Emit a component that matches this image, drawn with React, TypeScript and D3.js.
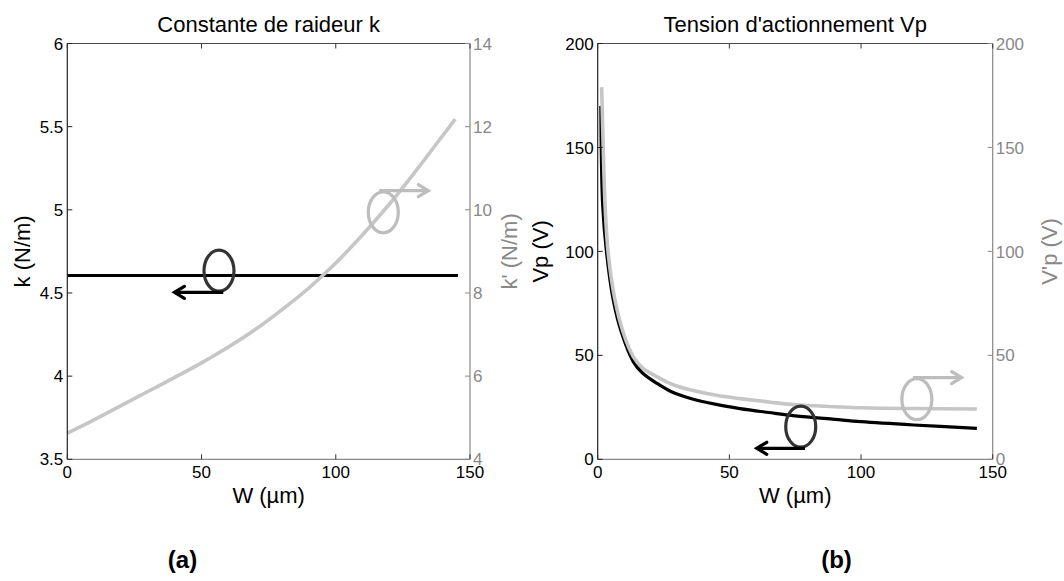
import React from "react";
import * as d3 from "d3";

// ---------- data ----------
const xTicks = [0, 50, 100, 150];

// panel (a)
const kTicks = [3.5, 4, 4.5, 5, 5.5, 6];
const kPrimeTicks = [4, 6, 8, 10, 12, 14];
const kW = [0, 145.5];
const kVal = [4.605, 4.605];
const kPrimeW = [0, 10, 20, 30, 40, 50, 60, 70, 80, 90, 100, 110, 120, 130, 140, 144.5];
const kPrimeVal = [4.63, 4.95, 5.29, 5.63, 5.97, 6.32, 6.7, 7.12, 7.6, 8.12, 8.72, 9.4, 10.14, 10.95, 11.8, 12.18];

// panel (b)
const vTicks = [0, 50, 100, 150, 200];
const vpW = [1.2, 1.9, 3.4, 5.9, 9.1, 13.5, 17, 22.4, 28, 35, 45, 54, 65, 75, 90, 100, 120, 144];
const vpVal = [170, 122, 99, 76.7, 60.7, 47, 41.5, 36.6, 32.5, 29.4, 26.4, 24.4, 22.5, 20.9, 19.2, 18.1, 16.5, 14.9];
const vppW = [1.5, 2.1, 2.8, 4, 6.5, 9.7, 13.5, 17, 22.4, 28, 35, 45, 54, 65, 75, 90, 100, 120, 144];
const vppVal = [179, 150, 122, 99, 77, 61, 49.4, 44, 39.8, 36.2, 33.4, 30.8, 29.2, 27.6, 26.2, 25.3, 24.8, 24.4, 24.2];

// annotation anchors (data coords): [ellipseW, ellipseY, arrowFromW, arrowToW, arrowY]
const annAleft = [56.5, 4.634, 58.1, 39.9, 4.504];
const annAright = [117.7, 9.94, 116.2, 134.5, 10.46];
const annBleft = [77.1, 15.7, 78.7, 60.4, 5.3];
const annBright = [121.2, 28.9, 119.7, 138.2, 39.3];

const GRAY_LINE = "#c6c6c6";
const GRAY_AXIS = "#888888";
const FONT = "Liberation Sans, Arial, Helvetica, sans-serif";

type PanelProps = {
  x0: number; x1: number; title: string; letter: string; letterX: number;
  leftTicks: number[]; leftDomain: [number, number]; leftLabel: string;
  rightTicks: number[]; rightDomain: [number, number]; rightLabel: string;
  leftLabelX: number; rightLabelX: number;
  blackW: number[]; blackV: number[]; grayW: number[]; grayV: number[];
  annL: number[]; annR: number[];
};

const TOP = 43.5, BOTTOM = 459.3;

function Panel(p: PanelProps) {
  const x = d3.scaleLinear().domain([0, 150]).range([p.x0, p.x1]);
  const yl = d3.scaleLinear().domain(p.leftDomain).range([BOTTOM, TOP]);
  const yr = d3.scaleLinear().domain(p.rightDomain).range([BOTTOM, TOP]);
  const lineL = d3.line<number>().x((_, i) => x(p.blackW[i])).y((d) => yl(d)).curve(d3.curveCatmullRom.alpha(0.5));
  const lineR = d3.line<number>().x((_, i) => x(p.grayW[i])).y((d) => yr(d)).curve(d3.curveCatmullRom.alpha(0.5));
  const tl = 5;
  const cx = (p.x0 + p.x1) / 2;
  const cy = (TOP + BOTTOM) / 2;

  const arrow = (a: number[], ys: d3.ScaleLinear<number, number>, color: string, ecolor: string) => {
    const ex = x(a[0]), ey = ys(a[1]);
    const fx = x(a[2]), tx = x(a[3]), ay = ys(a[4]);
    const dir = tx > fx ? 1 : -1;
    const h = 10;
    return (
      <g>
        <ellipse cx={ex} cy={ey} rx={15} ry={20.5} fill="none" stroke={ecolor} strokeWidth={3.2} />
        <path d={`M${fx},${ay}L${tx},${ay}`} stroke={color} strokeWidth={3.2} fill="none" />
        <path d={`M${tx - dir * h},${ay - 6}L${tx},${ay}L${tx - dir * h},${ay + 6}`} stroke={color} strokeWidth={3.2} fill="none" strokeLinecap="round" />
      </g>
    );
  };

  return (
    <g fontFamily={FONT}>
      <path d={lineL(p.blackV) || ""} fill="none" stroke="#000" strokeWidth={3.2} />
      <path d={lineR(p.grayV) || ""} fill="none" stroke={GRAY_LINE} strokeWidth={3.6} />
      {arrow(p.annL, yl, "#000", "#333")}
      {arrow(p.annR, yr, "#bdbdbd", "#bdbdbd")}

      {/* axes box */}
      <line x1={p.x0} x2={p.x1} y1={TOP} y2={TOP} stroke="#4a4a4a" strokeWidth={1} />
      <line x1={p.x0} x2={p.x1} y1={BOTTOM} y2={BOTTOM} stroke={GRAY_AXIS} strokeWidth={1.2} />
      <line x1={p.x0} x2={p.x0} y1={TOP} y2={BOTTOM} stroke="#222" strokeWidth={1.2} />
      <line x1={p.x1} x2={p.x1} y1={TOP} y2={BOTTOM} stroke={GRAY_AXIS} strokeWidth={1.2} />

      {xTicks.map((t) => (
        <g key={"x" + t}>
          <line x1={x(t)} x2={x(t)} y1={BOTTOM} y2={BOTTOM - tl} stroke="#333" />
          <line x1={x(t)} x2={x(t)} y1={TOP} y2={TOP + tl} stroke="#333" />
          <text x={x(t)} y={BOTTOM + 18.5} textAnchor="middle" fontSize={17} fill="#000">{t}</text>
        </g>
      ))}
      {p.leftTicks.map((t) => (
        <g key={"l" + t}>
          <line x1={p.x0} x2={p.x0 + tl} y1={yl(t)} y2={yl(t)} stroke="#222" />
          <text x={p.x0 - 4} y={yl(t)} dy="0.36em" textAnchor="end" fontSize={17} fill="#000">{t}</text>
        </g>
      ))}
      {p.rightTicks.map((t) => (
        <g key={"r" + t}>
          <line x1={p.x1} x2={p.x1 - tl} y1={yr(t)} y2={yr(t)} stroke={GRAY_AXIS} />
          <text x={p.x1 + 3} y={yr(t)} dy="0.36em" textAnchor="start" fontSize={17} fill={GRAY_AXIS}>{t}</text>
        </g>
      ))}

      <text x={cx} y={31.5} textAnchor="middle" fontSize={22} fill="#000">{p.title}</text>
      <text x={cx} y={503} textAnchor="middle" fontSize={22} fill="#000">W (µm)</text>
      <text transform={`translate(${p.leftLabelX},${cy}) rotate(-90)`} textAnchor="middle" fontSize={22} fill="#000">{p.leftLabel}</text>
      <text transform={`translate(${p.rightLabelX},${cy}) rotate(-90)`} textAnchor="middle" fontSize={22} fill={GRAY_AXIS}>{p.rightLabel}</text>
      <text x={p.letterX} y={568} textAnchor="middle" fontSize={24} fontWeight="bold" fill="#000">{p.letter}</text>
    </g>
  );
}

export default function App() {
  return (
    <svg width={1064} height={581} style={{ position: "absolute", left: 0, top: 0, background: "#fff" }}>
      <rect width={1064} height={581} fill="#fff" />
      <Panel
        x0={67.3} x1={470} title="Constante de raideur k" letter="(a)" letterX={182.5}
        leftTicks={kTicks} leftDomain={[3.5, 6]} leftLabel="k (N/m)"
        rightTicks={kPrimeTicks} rightDomain={[4, 14]} rightLabel="k' (N/m)"
        leftLabelX={30} rightLabelX={517}
        blackW={kW} blackV={kVal} grayW={kPrimeW} grayV={kPrimeVal}
        annL={annAleft} annR={annAright}
      />
      <Panel
        x0={597.7} x1={992.7} title="Tension d'actionnement Vp" letter="(b)" letterX={836.5}
        leftTicks={vTicks} leftDomain={[0, 200]} leftLabel="Vp (V)"
        rightTicks={vTicks} rightDomain={[0, 200]} rightLabel="V'p (V)"
        leftLabelX={548} rightLabelX={1057}
        blackW={vpW} blackV={vpVal} grayW={vppW} grayV={vppVal}
        annL={annBleft} annR={annBright}
      />
    </svg>
  );
}
